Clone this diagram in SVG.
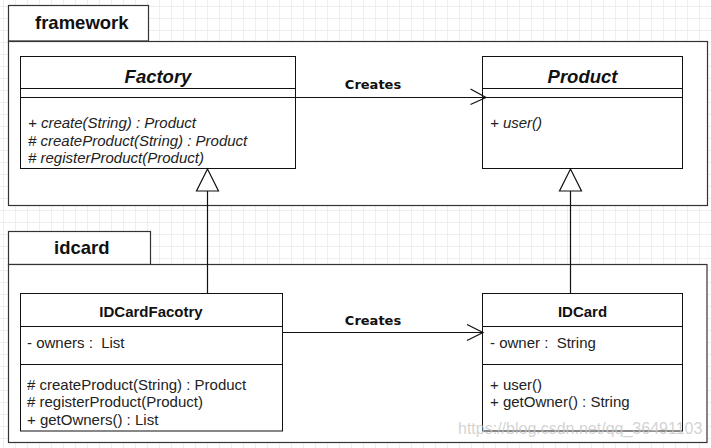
<svg xmlns="http://www.w3.org/2000/svg" width="711" height="448" viewBox="0 0 711 448">
<defs>
<pattern id="grid" x="3" y="6" width="12" height="12" patternUnits="userSpaceOnUse">
<path d="M0 0.5H12M0.5 0V12" fill="none" stroke="#efefef" stroke-width="1"/>
</pattern>
<style>
text{white-space:pre}
.box{fill:#fff;stroke:#111;stroke-width:1}
.pkg{fill:#fff;stroke:#333;stroke-width:1.2}
.div{stroke:#111;stroke-width:1}
.t{font-family:"Liberation Sans",Arial,sans-serif;font-size:15px;fill:#222}
.ti{font-family:"Liberation Sans",Arial,sans-serif;font-size:15px;font-style:italic;fill:#222}
.h{font-family:"Liberation Sans",Arial,sans-serif;font-size:15px;font-weight:bold;fill:#111;text-anchor:middle}
.hi{font-family:"Liberation Sans",Arial,sans-serif;font-size:18.5px;font-weight:bold;font-style:italic;fill:#111;text-anchor:middle}
.pk{font-family:"Liberation Sans",Arial,sans-serif;font-size:18.5px;font-weight:bold;fill:#111}
.lbl{font-family:"DejaVu Sans","Liberation Sans",sans-serif;font-size:13px;font-weight:bold;fill:#111;text-anchor:middle}
.ln{fill:none;stroke:#111;stroke-width:1.2}
.tri{fill:#fff;stroke:#111;stroke-width:1.2}
</style>
</defs>
<rect width="711" height="448" fill="#fff"/>
<rect width="711" height="448" fill="url(#grid)"/>

<g id="pkg-framework">
<rect class="pkg" x="8.5" y="5.5" width="140" height="35.5"/>
<rect class="pkg" x="8.5" y="41.5" width="699" height="164"/>
<text class="pk" x="35" y="29">framework</text>
</g>

<g id="pkg-idcard">
<rect class="pkg" x="8.5" y="231.5" width="142" height="33"/>
<rect class="pkg" x="8.5" y="264.5" width="698.5" height="178"/>
<text class="pk" x="54" y="254">idcard</text>
</g>

<g id="Factory">
<rect class="box" x="20.5" y="56.5" width="275" height="112"/>
<line class="div" x1="20.5" y1="88.5" x2="295.5" y2="88.5"/>
<line class="div" x1="20.5" y1="97.5" x2="295.5" y2="97.5"/>
<text class="hi" x="158" y="83">Factory</text>
<text class="ti" x="28" y="128">+ create(String) : Product</text>
<text class="ti" x="28" y="145.5"># createProduct(String) : Product</text>
<text class="ti" x="28" y="163"># registerProduct(Product)</text>
</g>

<g id="Product">
<rect class="box" x="482.5" y="56.5" width="200" height="112"/>
<line class="div" x1="482.5" y1="88.5" x2="682.5" y2="88.5"/>
<line class="div" x1="482.5" y1="97.5" x2="682.5" y2="97.5"/>
<text class="hi" x="582.5" y="83">Product</text>
<text class="ti" x="490" y="128">+ user()</text>
</g>

<g id="IDCardFacotry">
<rect class="box" x="20.5" y="293.5" width="262" height="137.5"/>
<line class="div" x1="20.5" y1="326.5" x2="282.5" y2="326.5"/>
<line class="div" x1="20.5" y1="364.5" x2="282.5" y2="364.5"/>
<text class="h" x="151" y="317">IDCardFacotry</text>
<text class="t" x="27" y="348">- owners :  List</text>
<text class="t" x="27" y="389.5"># createProduct(String) : Product</text>
<text class="t" x="27" y="407"># registerProduct(Product)</text>
<text class="t" x="27" y="424.5">+ getOwners() : List</text>
</g>

<g id="IDCard">
<rect class="box" x="482.5" y="293.5" width="200" height="137.5"/>
<line class="div" x1="482.5" y1="326.5" x2="682.5" y2="326.5"/>
<line class="div" x1="482.5" y1="364.5" x2="682.5" y2="364.5"/>
<text class="h" x="582.5" y="317">IDCard</text>
<text class="t" x="490" y="348">- owner :  String</text>
<text class="t" x="490" y="389.5">+ user()</text>
<text class="t" x="490" y="407">+ getOwner() : String</text>
</g>

<g id="connectors">
<line class="ln" x1="296" y1="97.5" x2="485" y2="97.5"/>
<polyline class="ln" points="470.5,89 486,97.5 470.5,104.5"/>
<text class="lbl" x="373" y="88.5">Creates</text>
<line class="ln" x1="283" y1="332.5" x2="483" y2="332.5"/>
<polyline class="ln" points="467,324.5 483,332.5 467,340.5"/>
<text class="lbl" x="373" y="324.5">Creates</text>
<line class="ln" x1="207.5" y1="293.5" x2="207.5" y2="191"/>
<polygon class="tri" points="207.5,169 196.5,191 218.5,191"/>
<line class="ln" x1="570.5" y1="293.5" x2="570.5" y2="191"/>
<polygon class="tri" points="570.5,169 559.5,191 581.5,191"/>
</g>

<text x="458" y="434" font-family="'Liberation Sans',Arial,sans-serif" font-size="16" fill="#c4c4c4" fill-opacity="0.75">https://blog.csdn.net/qq_36491103</text>
</svg>
